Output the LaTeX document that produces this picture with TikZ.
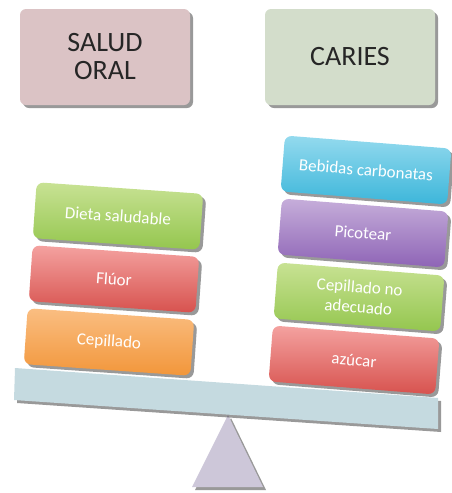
\documentclass[tikz,border=0pt]{standalone}
\usepackage{fontspec}
\setmainfont{Carlito}
\usetikzlibrary{shadows}

\definecolor{saludpink}{RGB}{219,195,197}
\definecolor{cariesgreen}{RGB}{211,221,203}
\definecolor{greentop}{RGB}{200,226,148}
\definecolor{greenbot}{RGB}{148,198,78}
\definecolor{redtop}{RGB}{244,162,160}
\definecolor{redbot}{RGB}{215,82,78}
\definecolor{orangetop}{RGB}{250,190,130}
\definecolor{orangebot}{RGB}{242,150,58}
\definecolor{cyantop}{RGB}{148,218,238}
\definecolor{cyanbot}{RGB}{60,182,218}
\definecolor{purpletop}{RGB}{198,174,218}
\definecolor{purplebot}{RGB}{142,100,182}
\definecolor{beamblue}{RGB}{197,218,224}
\definecolor{baselilac}{RGB}{205,199,217}

\begin{document}
\begin{tikzpicture}[x=1pt,y=-1pt,
    softshadow/.style={drop shadow={shadow xshift=3pt,shadow yshift=-3pt,fill=black,opacity=0.4}},
    titlebox/.style={softshadow,rounded corners=6pt,minimum width=170pt,minimum height=96pt,
        inner sep=0pt,align=center,text={black!85},font=\fontsize{28}{28}\selectfont},
    itembox/.style={softshadow,rounded corners=7pt,minimum width=167pt,minimum height=56pt,
        inner sep=0pt,align=center,text=white,font=\fontsize{17}{20}\selectfont},
    leftbox/.style={itembox,rotate=-4},
    rightbox/.style={itembox,rotate=-4.5}]

    \useasboundingbox (0,0) rectangle (452,493);

    % titles
    \node[titlebox,fill=saludpink] (salud) at (105,57) {SALUD\\ORAL};
    \node[titlebox,fill=cariesgreen] (caries) at (350,57) {CARIES};

    % fulcrum and beam
    \fill[baselilac,softshadow] (228,415) -- (263,487) -- (192,487) -- cycle;
    \fill[beamblue,softshadow] (15,368) -- (438,398) -- (438,429) -- (14,400) -- cycle;

    % left pan
    \node[leftbox,top color=greentop,bottom color=greenbot] (dieta) at (118,216) {Dieta saludable};
    \node[leftbox,top color=redtop,bottom color=redbot] (fluor) at (114,279) {Flúor};
    \node[leftbox,top color=orangetop,bottom color=orangebot] (cepillado) at (109,342) {Cepillado};

    % right pan
    \node[rightbox,top color=cyantop,bottom color=cyanbot] (bebidas) at (366,170) {Bebidas carbonatas};
    \node[rightbox,top color=purpletop,bottom color=purplebot] (picotear) at (363,233) {Picotear};
    \node[rightbox,top color=greentop,bottom color=greenbot] (cepnoad) at (359,297) {Cepillado no\\adecuado};
    \node[rightbox,top color=redtop,bottom color=redbot] (azucar) at (354,360) {azúcar};
\end{tikzpicture}
\end{document}
